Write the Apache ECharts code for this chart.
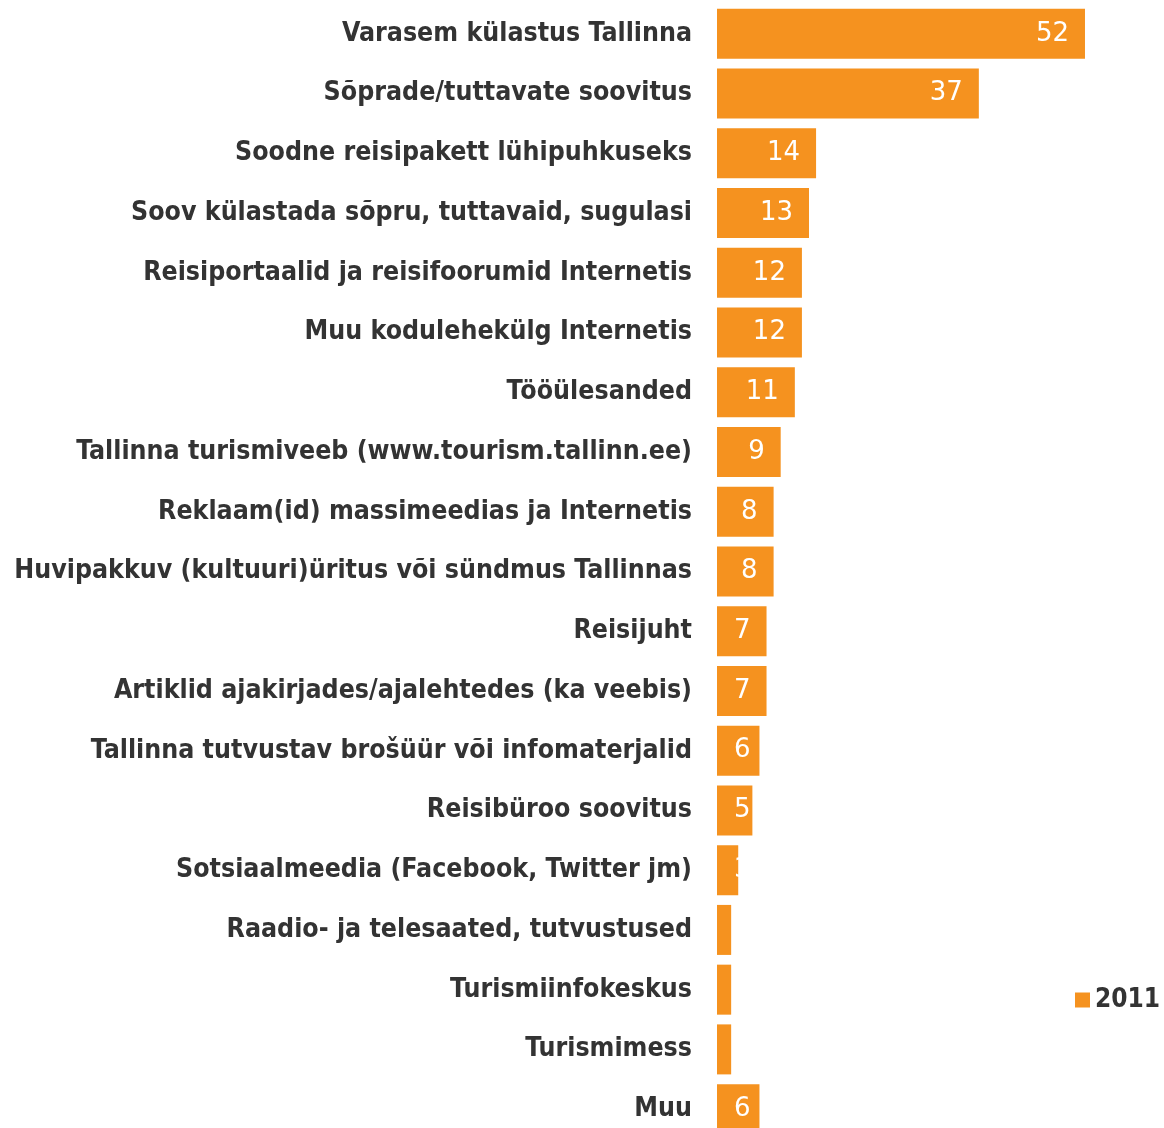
<!DOCTYPE html>
<html>
<head>
<meta charset="utf-8">
<script src="https://cdn.jsdelivr.net/npm/echarts@6/dist/echarts.min.js"></script>
<style>
    html, body {margin: 0; padding: 0; background: #ffffff;}
    #chart {width: 1164px; height: 1128px;}
</style>
</head>
<body>
<div id="chart"></div>
<script>
// kategooriad ülevalt alla
const categories = [
    'Varasem külastus Tallinna',
    'Sõprade/tuttavate soovitus',
    'Soodne reisipakett lühipuhkuseks',
    'Soov külastada sõpru, tuttavaid, sugulasi',
    'Reisiportaalid ja reisifoorumid Internetis',
    'Muu kodulehekülg Internetis',
    'Tööülesanded',
    'Tallinna turismiveeb (www.tourism.tallinn.ee)',
    'Reklaam(id) massimeedias ja Internetis',
    'Huvipakkuv (kultuuri)üritus või sündmus Tallinnas',
    'Reisijuht',
    'Artiklid ajakirjades/ajalehtedes (ka veebis)',
    'Tallinna tutvustav brošüür või infomaterjalid',
    'Reisibüroo soovitus',
    'Sotsiaalmeedia (Facebook, Twitter jm)',
    'Raadio- ja telesaated, tutvustused',
    'Turismiinfokeskus',
    'Turismimess',
    'Muu'
]

const values2011 = [52, 37, 14, 13, 12, 12, 11, 9, 8, 8, 7, 7, 6, 5, 3, 2, 2, 2, 6]
const seriesName = '2011'

const ORANGE = '#F5921F'

// lühikeste tulpade silt jääb kindlale kohale (valge valgel kaob ära)
function buildData() {
    return values2011.map(function (v) {
        const item = {value: v}
        if (v <= 7) {
            item.label = {position: [17, '50%'], align: 'left', verticalAlign: 'middle'}
        }
        return item
    })
}

const myChart = echarts.init(document.getElementById('chart'))
const option = {
    animation: false,
    backgroundColor: '#ffffff',
    legend: {
        data: [seriesName],
        left: 1070,
        top: 982,
        itemWidth: 15,
        itemHeight: 15,
        itemGap: 4,
        icon: 'rect',
        textStyle: {
            fontFamily: 'DejaVu Sans Condensed',
            fontWeight: 'bold',
            fontSize: 26,
            color: '#333333',
            padding: [0, 0, 0, 0]
        }
    },
    grid: {
        left: 717,
        top: 4,
        width: 424.6,
        height: 1135,
        outerBoundsMode: 'none',
        containLabel: false
    },
    xAxis: {
        type: 'value',
        min: 0,
        max: 60,
        show: false
    },
    yAxis: {
        type: 'category',
        inverse: true,
        data: categories,
        axisLine: {show: false},
        axisTick: {show: false},
        axisLabel: {
            margin: 25,
            fontFamily: 'DejaVu Sans Condensed',
            fontWeight: 'bold',
            fontSize: 26.5,
            color: '#333333'
        }
    },
    series: [{
        name: seriesName,
        type: 'bar',
        data: buildData(),
        barWidth: 50,
        itemStyle: {color: ORANGE},
        label: {
            show: true,
            position: 'insideRight',
            distance: 16,
            color: '#ffffff',
            fontFamily: 'DejaVu Sans',
            fontSize: 26
        }
    }]
}
myChart.setOption(option)
</script>
</body>
</html>
